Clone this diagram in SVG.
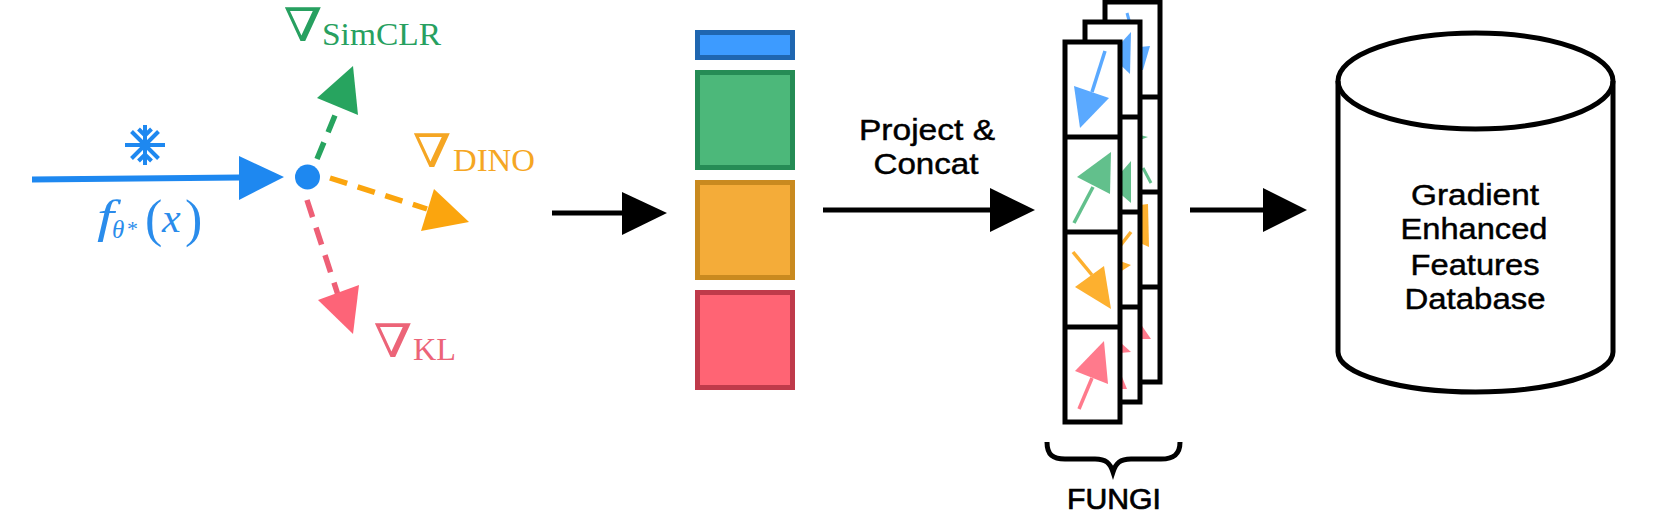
<svg xmlns="http://www.w3.org/2000/svg" width="1668" height="520" viewBox="0 0 1668 520">
<style>
.sans{font-family:"Liberation Sans",Arial,sans-serif;font-size:29px;fill:#000;stroke:#000;stroke-width:.45px;text-anchor:middle}
.serif{font-family:"Liberation Serif","Times New Roman",serif}
.nab{font-family:"DejaVu Serif","Liberation Serif",serif;font-size:46px;text-anchor:middle}
.sub{font-size:32px}
.dash{fill:none;stroke-width:5.500;stroke-dasharray:18 11}
.blk{fill:none;stroke:#000;stroke-width:5}
.cell{fill:none;stroke:#000;stroke-width:5}
</style>
<rect width="1668" height="520" fill="#fff"/>
<g id="connectors">
<path d="M32 179.500L240 177.500" fill="none" stroke="#1e88f0" stroke-width="6"/>
<polygon points="239,156 284,177 239,200" fill="#1e88f0"/>
<path class="dash" stroke="#27a45f" d="M317 159L336 113"/>
<polygon points="353,66 317,98 358,115" fill="#27a45f"/>
<path class="dash" stroke="#fba50e" d="M330 178L427 209"/>
<polygon points="469,222 434,189 421,231" fill="#fba50e"/>
<path class="dash" stroke="#ee5f76" d="M307 200L338 295"/>
<polygon points="353,334 318,300 359,285" fill="#fd6478"/>
<path class="blk" d="M552 213H625"/><polygon points="622,192 667,213 622,235"/>
<path class="blk" d="M823 210H992"/><polygon points="990,188 1035,210 990,232"/>
<path class="blk" d="M1190 210H1265"/><polygon points="1263,188 1307,210 1263,232"/>
</g>
<g id="source">
<circle cx="307.500" cy="177" r="12.500" fill="#1e88f0"/>
<g id="snowflake" fill="none" stroke="#1e88f0" stroke-width="4">
<path d="M145 125V165M125 145H165M131.500 131.500L158.500 158.500M158.500 131.500L131.500 158.500"/>
<path d="M138.500 129L145 135.500L151.500 129M138.500 161L145 154.500L151.500 161"/>
</g>
<g fill="#2a8ceb" class="serif">
<text x="97" y="232" font-size="46" font-style="italic" textLength="17" lengthAdjust="spacingAndGlyphs">f</text>
<text x="112" y="238" font-size="25" font-style="italic">θ</text>
<text x="127" y="236" font-size="22">*</text>
<text x="145" y="236" font-size="52" font-weight="400">(</text>
<text x="162" y="232" font-size="42" font-style="italic">x</text>
<text x="185" y="236" font-size="52">)</text>
</g>
</g>
<g id="grad-simclr" fill="#27a060">
<text class="nab" x="303" y="41" textLength="39" lengthAdjust="spacingAndGlyphs">∇</text>
<text class="serif sub" x="322" y="45" textLength="119" lengthAdjust="spacingAndGlyphs">SimCLR</text>
</g>
<g id="grad-dino" fill="#f5a623">
<text class="nab" x="432" y="167" textLength="39" lengthAdjust="spacingAndGlyphs">∇</text>
<text class="serif sub" x="453" y="171" textLength="82" lengthAdjust="spacingAndGlyphs">DINO</text>
</g>
<g id="grad-kl" fill="#ec6478">
<text class="nab" x="393" y="357" textLength="39" lengthAdjust="spacingAndGlyphs">∇</text>
<text class="serif sub" x="413" y="360" textLength="43" lengthAdjust="spacingAndGlyphs">KL</text>
</g>
<g id="vector">
<rect x="697.500" y="32.500" width="95" height="25" fill="#3d9bff" stroke="#1f66b0" stroke-width="5"/>
<rect x="697.500" y="72.500" width="95" height="95" fill="#4cb87a" stroke="#258c55" stroke-width="5"/>
<rect x="697.500" y="182.500" width="95" height="95" fill="#f4ac39" stroke="#c98a1f" stroke-width="5"/>
<rect x="697.500" y="292.500" width="95" height="95" fill="#ff6474" stroke="#bf3a4a" stroke-width="5"/>
</g>
<g id="label-project">
<text class="sans" x="927" y="140" textLength="136" lengthAdjust="spacingAndGlyphs">Project &amp;</text>
<text class="sans" x="926" y="174" textLength="105" lengthAdjust="spacingAndGlyphs">Concat</text>
</g>
<g id="stack-back">
<rect x="1105" y="2" width="55" height="380" fill="#fff"/>
<path d="M1127 13L1129.500 22" stroke="#5aa9ff" stroke-width="3" fill="none"/>
<polygon points="1140,47 1150,46 1143,70 1140,70" fill="#5aa9ff"/>
<polygon points="1140,135 1148,137 1140,140" fill="#62c08c"/>
<path d="M1143 168L1151 183" stroke="#62c08c" stroke-width="3" fill="none"/>
<polygon points="1140,205 1148,204 1149,247 1140,243" fill="#fdb02f"/>
<polygon points="1140,323 1151,339 1140,339" fill="#ff7a8c"/>
<rect class="cell" x="1105" y="2" width="55" height="380"/>
<path class="blk" d="M1105 97H1162M1105 192H1162M1105 287H1162"/>
</g>
<g id="stack-middle">
<rect x="1085" y="22" width="55" height="380" fill="#fff"/>
<polygon points="1110,55 1131,32 1130,74" fill="#5aa9ff"/>
<polygon points="1110,185 1131,161 1131,203" fill="#62c08c"/>
<path d="M1120 246L1131 232" stroke="#fdb02f" stroke-width="3.500" fill="none"/>
<polygon points="1120,261 1131,265 1120,272" fill="#fdb02f"/>
<polygon points="1120,342 1131,352 1120,353" fill="#ff7a8c"/>
<polygon points="1120,372 1127,389 1120,389" fill="#ff7a8c"/>
<rect class="cell" x="1085" y="22" width="55" height="380"/>
<path class="blk" d="M1120 117H1142M1120 212H1142M1120 307H1142"/>
</g>
<g id="stack-front">
<rect x="1065" y="42" width="55" height="380" fill="#fff"/>
<path d="M1105 51L1092 92" stroke="#5aa9ff" stroke-width="3.500" fill="none"/>
<polygon points="1074,86 1109,98 1080,128" fill="#5aa9ff"/>
<path d="M1074 223L1093 187" stroke="#62c08c" stroke-width="3.500" fill="none"/>
<polygon points="1077,177 1111,152 1110,194" fill="#62c08c"/>
<path d="M1073 252L1092 275" stroke="#fdb02f" stroke-width="3.500" fill="none"/>
<polygon points="1075,287 1104,266 1111,309" fill="#fdb02f"/>
<path d="M1079 409L1092 378" stroke="#ff7a8c" stroke-width="3.500" fill="none"/>
<polygon points="1075,371 1104,341 1108,384" fill="#ff7a8c"/>
<rect class="cell" x="1065" y="42" width="55" height="380"/>
<path class="blk" d="M1063 137H1122M1063 232H1122M1063 327H1122"/>
</g>
<g id="fungi">
<path class="blk" d="M1047 442C1047 455 1053 459 1065 459L1095 459C1106 459 1110 463 1113 472C1116 463 1120 459 1131 459L1161 459C1173 459 1180 455 1180 442"/>
<text class="sans" x="1114" y="509" textLength="94" lengthAdjust="spacingAndGlyphs" style="stroke-width:.7px">FUNGI</text>
</g>
<g id="database">
<ellipse cx="1475.500" cy="81" rx="137.500" ry="48" class="blk"/>
<path class="blk" d="M1338 81V352C1338 374 1400 392 1475.500 392C1551 392 1613 374 1613 352V81"/>
<text class="sans" x="1475" y="205" textLength="128" lengthAdjust="spacingAndGlyphs">Gradient</text>
<text class="sans" x="1474" y="239" textLength="147" lengthAdjust="spacingAndGlyphs">Enhanced</text>
<text class="sans" x="1475" y="275" textLength="129" lengthAdjust="spacingAndGlyphs">Features</text>
<text class="sans" x="1475" y="309" textLength="141" lengthAdjust="spacingAndGlyphs">Database</text>
</g>
</svg>
